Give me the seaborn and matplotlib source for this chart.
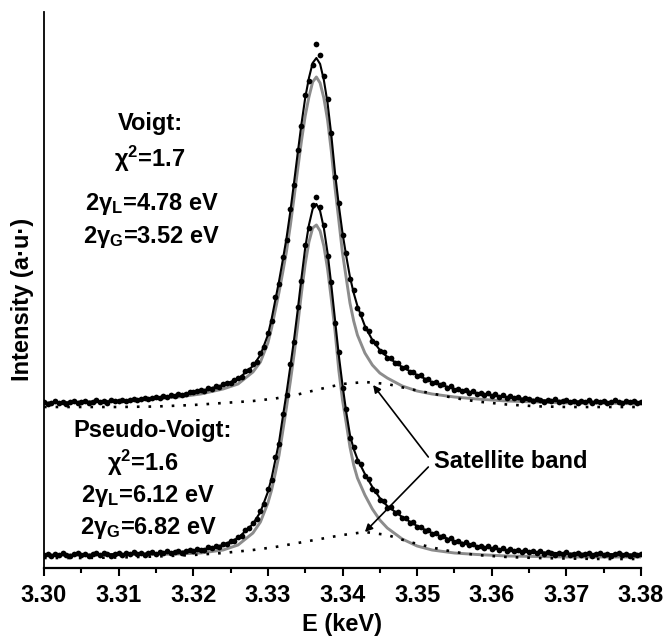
import numpy as np
import pandas as pd
import matplotlib
matplotlib.use("Agg")
import matplotlib.pyplot as plt
from matplotlib.ticker import MultipleLocator, FixedLocator, FixedFormatter
import seaborn as sns

# ---------------- data ----------------
# spectrometer channel grid (keV)
E_START = 3.300
E_STEP = 0.0005
N_CH = 161

# measured points, upper spectrum (Voigt fit), a.u. above its own baseline
DOTS_UPPER = [1, -1, 0, 2, 0, 1, -1, 1, 2, 0,
              1, 2, 0, 1, 3, 1, 2, 0, 3, 2,
              2, 3, 2, 3, 4, 3, 4, 5, 4, 5,
              6, 5, 7, 6, 8, 7, 9, 8, 9, 11,
              11, 12, 13, 12, 15, 14, 17, 16, 19, 20,
              20, 23, 25, 26, 32, 33, 39, 41, 50, 56,
              70, 82, 106, 119, 146, 163, 194, 218, 253, 277,
              308, 322, 338, 359, 348, 327, 304, 270, 226, 200,
              168, 150, 124, 113, 95, 89, 75, 72, 62, 60,
              52, 51, 45, 45, 40, 40, 35, 36, 31, 31,
              27, 28, 23, 24, 20, 21, 18, 19, 15, 17,
              13, 14, 12, 13, 10, 12, 9, 10, 8, 10,
              7, 9, 6, 8, 5, 7, 5, 6, 3, 5,
              4, 2, 4, 3, 1, 3, 2, 4, 1, 2,
              3, 1, 2, 0, 2, 1, 3, 0, 2, 1,
              2, 0, 1, 3, 1, 0, 2, 1, 2, 0, 1]

# measured points, lower spectrum (Pseudo-Voigt fit)
DOTS_LOWER = [0, 1, -1, 1, 0, 2, 0, -1, 1, 2,
              0, 1, -1, 1, 2, 0, 2, 1, -1, 1,
              2, 0, 2, 1, 3, 1, 2, 0, 2, 3,
              1, 3, 2, 4, 2, 3, 4, 2, 4, 5,
              4, 6, 5, 5, 8, 7, 9, 8, 11, 11,
              14, 14, 18, 19, 25, 27, 32, 36, 44, 51,
              66, 75, 98, 111, 141, 160, 191, 213, 248, 274,
              310, 327, 350, 358, 348, 330, 299, 273, 232, 203,
              167, 146, 117, 108, 94, 91, 79, 76, 66, 64,
              55, 54, 47, 48, 42, 43, 37, 37, 32, 33,
              28, 28, 24, 25, 21, 22, 18, 19, 15, 17,
              13, 14, 11, 13, 10, 11, 8, 9, 7, 9,
              6, 8, 5, 7, 4, 6, 4, 5, 3, 5,
              3, 4, 2, 4, 1, 3, 2, 0, 2, 1,
              3, 0, 1, 2, 0, 1, 2, -1, 1, 2,
              0, 1, -1, 1, 2, 0, 1, -1, 1, 0, 1]

# fitted curves
E_LINE = [3.300, 3.305, 3.310, 3.314, 3.318, 3.321, 3.324, 3.326, 3.328, 3.329,
          3.330, 3.3305, 3.331, 3.3315, 3.332, 3.3325, 3.333, 3.3335, 3.334, 3.3345,
          3.335, 3.3355, 3.336, 3.3365, 3.337, 3.3375, 3.338, 3.3385, 3.339, 3.3395,
          3.340, 3.3405, 3.341, 3.3415, 3.342, 3.343, 3.344, 3.345, 3.346, 3.348,
          3.350, 3.352, 3.355, 3.358, 3.362, 3.366, 3.370, 3.375, 3.380]
FIT_UPPER = [0, 1, 2, 4, 8, 12, 18, 24, 37, 48,
             68, 84, 103, 122, 143, 165, 191, 220, 250, 279,
             305, 325, 340, 345, 339, 323, 300, 268, 230, 198,
             170, 147, 126, 110, 97, 77, 63, 53, 46, 36,
             28, 21, 14, 10, 6, 3, 2, 1, 1]
GRAY_UPPER = [0, 1, 2, 4, 6, 9, 14, 19, 31, 41,
              60, 75, 93, 111, 131, 152, 177, 205, 234, 262,
              287, 306, 321, 326, 320, 305, 283, 252, 215, 183,
              150, 125, 100, 82, 68, 50, 38, 30, 25, 17,
              12, 9, 6, 4, 2, 1, 0, 0, -1]
FIT_LOWER = [0, 0, 1, 1.5, 3, 5, 10, 17, 31, 43,
             63, 77, 95, 113, 138, 162, 188, 215, 245, 277,
             307, 330, 346, 351, 344, 327, 302, 270, 235, 200,
             170, 143, 120, 106, 96, 81, 68, 57, 49, 38,
             29, 22, 14, 9, 5, 3, 1.5, 1, 0.5]
GRAY_LOWER = [0, 0, 0.5, 0.5, 1, 2, 5, 10, 22, 33,
              52, 65, 82, 100, 124, 148, 173, 200, 230, 262,
              291, 313, 327, 330, 324, 309, 286, 256, 224, 185,
              155, 132, 108, 90, 77, 60, 46, 35, 27, 16,
              9, 5, 2, 0.5, -1, -1.5, -2, -2, -2]

# satellite bands
E_SAT = [3.300, 3.305, 3.310, 3.315, 3.320, 3.324, 3.328, 3.331, 3.334, 3.337, 3.340,
         3.343, 3.346, 3.349, 3.352, 3.355, 3.358, 3.362, 3.366, 3.370, 3.375, 3.380]
SAT_UPPER = [-4, -4, -4, -3.5, -2, 0, 2, 4.5, 8.5, 14, 19,
             21, 19, 14, 9.5, 5, 1.5, -1.5, -3.3, -4, -4, -4]
SAT_LOWER = [-3, -3, -2.5, -1.5, 0, 2, 5, 8, 12, 16, 20,
             23, 20, 13, 7.5, 3, 0, -2, -3, -3.5, -4, -4]

UPPER_OFFSET = 152  # vertical shift of the upper spectrum

XTICKS = [3.30, 3.31, 3.32, 3.33, 3.34, 3.35, 3.36, 3.37, 3.38]
XTICK_LABELS = ["3.30", "3.31", "3.32", "3.33", "3.34", "3.35", "3.36", "3.37", "3.38"]

TEXT_VOIGT = ["Voigt:", "χ$^{2}$=1.7", "2γ$_{L}$=4.78 eV", "2γ$_{G}$=3.52 eV"]
TEXT_PV = ["Pseudo-Voigt:", "χ$^{2}$=1.6", "2γ$_{L}$=6.12 eV", "2γ$_{G}$=6.82 eV"]
SAT_LABEL = "Satellite band"
X_LABEL = "E (keV)"
Y_LABEL = "Intensity (a·u·)"

# ---------------- tables ----------------
e_ch = np.round(E_START + E_STEP * np.arange(N_CH), 4)
dots = pd.concat([
    pd.DataFrame({"E": e_ch, "I": np.array(DOTS_UPPER, float) + UPPER_OFFSET, "s": "upper"}),
    pd.DataFrame({"E": e_ch, "I": np.array(DOTS_LOWER, float), "s": "lower"}),
])
fit_u = pd.DataFrame({"E": E_LINE, "fit": np.array(FIT_UPPER, float) + UPPER_OFFSET,
                      "comp": np.array(GRAY_UPPER, float) + UPPER_OFFSET})
fit_l = pd.DataFrame({"E": E_LINE, "fit": np.array(FIT_LOWER, float),
                      "comp": np.array(GRAY_LOWER, float)})
sat = pd.DataFrame({"E": E_SAT, "up": np.array(SAT_UPPER, float) + UPPER_OFFSET,
                    "low": np.array(SAT_LOWER, float)})

# ---------------- style ----------------
sns.set_style("ticks")
plt.rcParams["font.family"] = ["Liberation Sans", "DejaVu Sans"]
plt.rcParams["font.weight"] = "bold"
plt.rcParams["mathtext.default"] = "regular"
plt.rcParams["text.color"] = "black"
plt.rcParams["axes.labelcolor"] = "black"
plt.rcParams["xtick.color"] = "black"
plt.rcParams["xtick.labelcolor"] = "black"

W, H = 667, 641
fig = plt.figure(figsize=(W / 100, H / 100), dpi=100)
ax = fig.add_axes([44 / W, 1 - 568 / H, 597 / W, 556 / H])

GRAY = "#8c8c8c"
for df in (fit_u, fit_l):
    sns.lineplot(data=df, x="E", y="comp", ax=ax, color=GRAY, lw=2.1,
                 estimator=None, legend=False)
    sns.lineplot(data=df, x="E", y="fit", ax=ax, color="black", lw=1.5,
                 estimator=None, legend=False)
for col in ("up", "low"):
    sns.lineplot(data=sat, x="E", y=col, ax=ax, color="black", lw=1.9,
                 linestyle=(0, (1, 3.4)), estimator=None, legend=False)
sns.scatterplot(data=dots, x="E", y="I", ax=ax, color="black", s=17,
                linewidth=0, legend=False, zorder=3)

ax.set_xlim(3.30, 3.38)
ax.set_ylim(-13, 543)
ax.set_xlabel("")
ax.set_ylabel("")
ax.set_yticks([])
ax.xaxis.set_major_locator(FixedLocator(XTICKS))
ax.xaxis.set_major_formatter(FixedFormatter(XTICK_LABELS))
ax.xaxis.set_minor_locator(MultipleLocator(0.005))
ax.tick_params(axis="x", which="major", length=5.8, width=1.5, direction="out",
               pad=5.5, labelsize=17, colors="black")
ax.tick_params(axis="x", which="minor", length=3.6, width=1.5, direction="out",
               colors="black")
for t in ax.get_xticklabels():
    t.set_fontweight("bold")
sns.despine(ax=ax, top=True, right=True)
ax.spines["bottom"].set_linewidth(1.6)
ax.spines["left"].set_linewidth(1.3)
ax.spines["bottom"].set_color("black")
ax.spines["left"].set_color("black")

# annotations
def ftext(px, py, s, **kw):
    fig.text(px / W, 1 - py / H, s, fontsize=17, fontweight="bold", color="black", **kw)

for s, (px, py) in zip(TEXT_VOIGT, [(150, 130), (150, 167), (152, 210), (152, 243)]):
    ftext(px, py, s, ha="center", va="baseline")
for s, (px, py) in zip(TEXT_PV, [(153, 437), (143, 471), (148, 502), (149, 534)]):
    ftext(px, py, s, ha="center", va="baseline")

ftext(342, 625, X_LABEL, ha="center", va="center")
ftext(23, 299, Y_LABEL, ha="center", va="center", rotation=90)

ax.text(3.3523, 87, SAT_LABEL, fontsize=17, fontweight="bold", color="black",
        ha="left", va="baseline")
arrow_kw = dict(arrowstyle="-|>", color="black", lw=1.2, mutation_scale=11,
                shrinkA=0, shrinkB=0)
ax.annotate("", xy=(3.3441, 170), xytext=(3.3515, 98), arrowprops=arrow_kw)
ax.annotate("", xy=(3.3430, 23), xytext=(3.3515, 88), arrowprops=arrow_kw)

fig.savefig("out.png", dpi=100)
